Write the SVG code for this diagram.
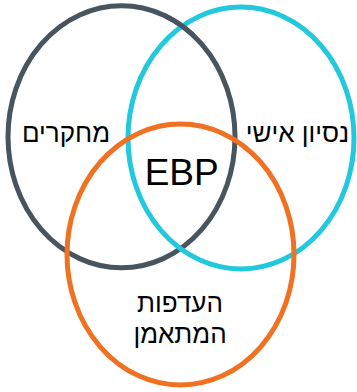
<svg xmlns="http://www.w3.org/2000/svg" width="357" height="392" viewBox="0 0 357 392">
<style>
.c{fill:none;stroke-width:5}
.t{font-family:"Liberation Sans","DejaVu Sans",sans-serif;fill:#000;text-anchor:middle}
.h{font-size:26px}
</style>
<defs>
<clipPath id="topx"><rect x="165" y="10" width="30" height="30"/></clipPath>
</defs>
<rect width="357" height="392" fill="#fff"/>
<g id="connectors"></g>
<g id="research"><ellipse class="c" cx="121.5" cy="136.8" rx="113.5" ry="131" stroke="#48555f"/></g>
<g id="experience"><ellipse class="c" cx="241" cy="138" rx="113" ry="131" stroke="#22c9dd"/></g>
<g id="research-over"><ellipse class="c" cx="121.5" cy="136.8" rx="113.5" ry="131" stroke="#48555f" clip-path="url(#topx)"/></g>
<g id="preferences"><ellipse class="c" cx="180.5" cy="254.5" rx="113.5" ry="130.5" stroke="#f07121"/></g>
<g id="labels">
<text class="t h" x="66" y="142">מחקרים</text>
<text class="t h" x="297.5" y="142">נסיון אישי</text>
<text class="t" x="181.7" y="185" font-size="37">EBP</text>
<text class="t h" x="180" y="312">העדפות</text>
<text class="t h" x="180" y="343">המתאמן</text>
</g>
</svg>
